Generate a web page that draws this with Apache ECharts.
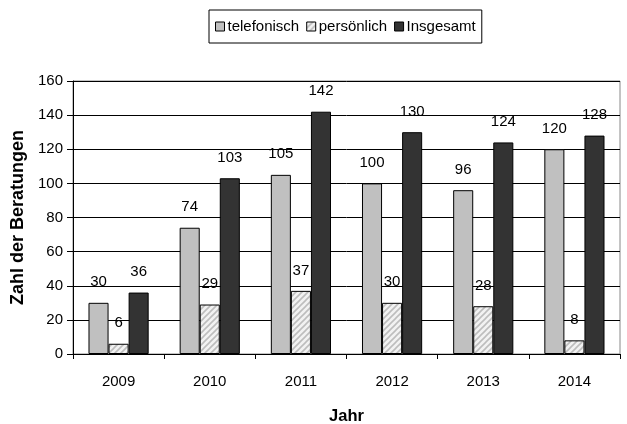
<!DOCTYPE html>
<html>
<head>
<meta charset="utf-8">
<script src="https://cdn.jsdelivr.net/npm/echarts@6/dist/echarts.min.js"></script>
<style>
html,body{margin:0;padding:0;background:#fff;}
#main{width:627px;height:424px;}
</style>
</head>
<body>
<div id="main"></div>
<script>
const categories = ['2009', '2010', '2011', '2012', '2013', '2014'];
const telefonisch = [30, 74, 105, 100, 96, 120];
const persoenlich = [6, 29, 37, 30, 28, 8];
const insgesamt = [36, 103, 142, 130, 124, 128];
const yTicks = [0, 20, 40, 60, 80, 100, 120, 140, 160];

function hatch() {
  const c = document.createElement('canvas');
  c.width = 6; c.height = 6;
  const g = c.getContext('2d');
  g.fillStyle = '#f2f2f2';
  g.fillRect(0, 0, 6, 6);
  g.strokeStyle = '#bdbdbd';
  g.lineWidth = 1.6;
  g.beginPath();
  g.moveTo(-1, 7); g.lineTo(7, -1);
  g.moveTo(-4, 4); g.lineTo(4, -4);
  g.moveTo(2, 10); g.lineTo(10, 2);
  g.stroke();
  return c;
}
const hatchImg = hatch();

const font = 'Liberation Sans, Arial, sans-serif';
const chart = echarts.init(document.getElementById('main'), null, {renderer: 'canvas'});
const labelCfg = {show: true, position: 'top', distance: 13, color: '#000', fontSize: 15, fontFamily: font};
chart.setOption({
  animation: false,
  textStyle: {fontFamily: font},
  legend: {
    left: 209, top: 10,
    padding: [9, 6, 9, 6],
    borderColor: '#000', borderWidth: 1,
    itemWidth: 9, itemHeight: 9, itemGap: 7,
    icon: 'rect',
    textStyle: {fontSize: 15, color: '#000', fontFamily: font, padding: [0, 0, 0, -2]},
    itemStyle: {borderColor: '#000', borderWidth: 1}
  },
  grid: {left: 73, right: 7, top: 81, bottom: 70, outerBoundsMode: 'none', containLabel: false,
         show: true, borderColor: '#888', borderWidth: 1},
  xAxis: {
    type: 'category', data: categories,
    name: 'Jahr', nameLocation: 'middle', nameGap: 54,
    nameTextStyle: {fontSize: 16.5, fontWeight: 'bold', color: '#000', fontFamily: font},
    axisLine: {lineStyle: {color: '#000', width: 1}},
    axisTick: {show: true, length: 5, lineStyle: {color: '#000'}},
    axisLabel: {fontSize: 15, color: '#000', margin: 20, fontFamily: font}
  },
  yAxis: {
    type: 'value', min: yTicks[0], max: yTicks[yTicks.length - 1], interval: 20,
    name: 'Zahl der Beratungen', nameLocation: 'middle', nameGap: 44, nameRotate: 90,
    nameTextStyle: {fontSize: 18, fontWeight: 'bold', color: '#000', fontFamily: font},
    axisLine: {show: true, lineStyle: {color: '#000', width: 1}},
    axisTick: {show: true, length: 6, lineStyle: {color: '#000'}},
    axisLabel: {fontSize: 15, color: '#000', margin: 10, fontFamily: font},
    splitLine: {show: true, lineStyle: {color: '#000', width: 1}}
  },
  series: [
    {name: 'telefonisch', type: 'bar', data: telefonisch, barGap: '0%', barCategoryGap: '34%',
     itemStyle: {color: '#c0c0c0', borderColor: '#000', borderWidth: 1}, label: labelCfg},
    {name: 'persönlich', type: 'bar', data: persoenlich,
     itemStyle: {color: {image: hatchImg, repeat: 'repeat'}, borderColor: '#000', borderWidth: 1}, label: labelCfg},
    {name: 'Insgesamt', type: 'bar', data: insgesamt,
     itemStyle: {color: '#333333', borderColor: '#000', borderWidth: 1}, label: labelCfg}
  ]
});
</script>
</body>
</html>
